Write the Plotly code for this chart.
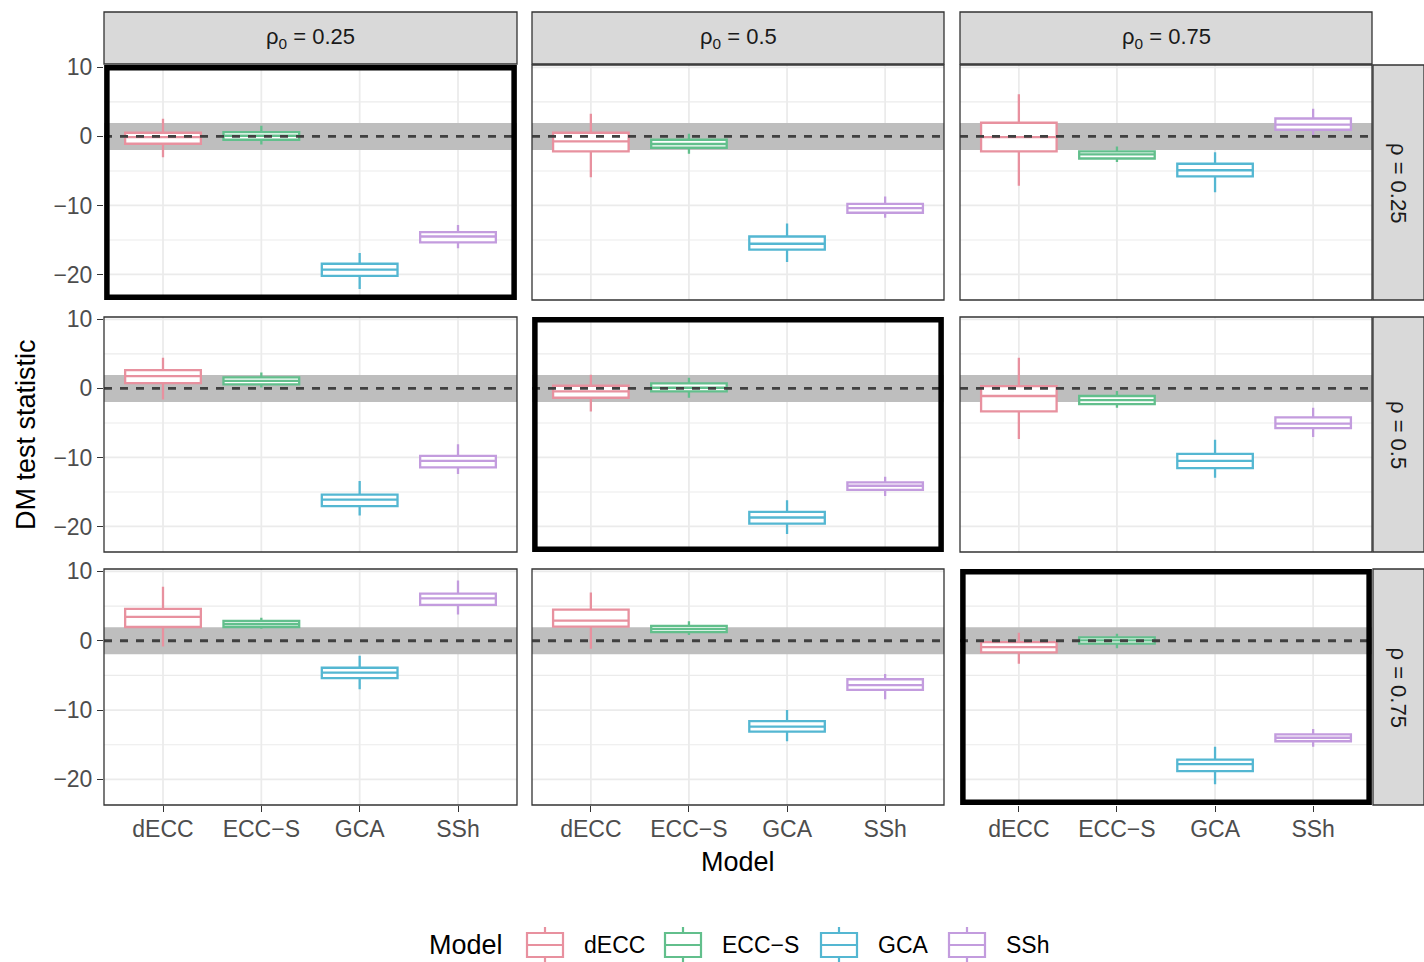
import plotly.graph_objects as go

# ---------------- data ----------------
models = ["dECC", "ECC\u2212S", "GCA", "SSh"]
rho0_labels = ["0.25", "0.5", "0.75"]      # columns
rho_labels = ["0.25", "0.5", "0.75"]       # rows
y_tickvals = [-20, -10, 0, 10]
y_ticktext = ["\u221220", "\u221210", "0", "10"]
y_minor = [-15, -5, 5]

# panel order: row-major (rho=0.25: rho0=0.25,0.5,0.75; rho=0.5: ...; rho=0.75: ...)
dECC_lo  = [-3.0, -5.9, -7.15, -1.6, -3.33, -7.34, -0.82, -1.16, -3.33]
dECC_q1  = [-1.06, -2.17, -2.17, 0.77, -1.35, -3.33, 1.98, 2.03, -1.69]
dECC_med = [-0.1, -0.72, -0.1, 1.79, -0.43, -1.1, 3.43, 2.9, -0.92]
dECC_q3  = [0.53, 0.53, 1.98, 2.66, 0.39, 0.34, 4.59, 4.5, -0.19]
dECC_hi  = [2.57, 3.3, 6.1, 4.44, 1.98, 4.44, 7.8, 6.96, 1.16]

eccs_lo  = [-1.16, -2.5, -3.7, 0.15, -1.35, -2.8, 1.74, 0.82, -1.1]
eccs_q1  = [-0.48, -1.64, -3.2, 0.58, -0.43, -2.27, 1.98, 1.26, -0.43]
eccs_med = [0.1, -1.1, -2.6, 1.1, 0.1, -1.7, 2.4, 1.7, 0.05]
eccs_q3  = [0.62, -0.48, -2.17, 1.59, 0.72, -1.1, 2.85, 2.13, 0.48]
eccs_hi  = [1.55, 0.39, -1.45, 2.3, 1.55, -0.39, 3.33, 2.8, 1.0]

gca_lo  = [-22.1, -18.2, -8.1, -18.4, -21.1, -12.95, -7.0, -14.5, -20.7]
gca_q1  = [-20.2, -16.4, -5.8, -17.05, -19.6, -11.55, -5.4, -13.1, -18.8]
gca_med = [-19.3, -15.55, -4.9, -16.1, -18.7, -10.5, -4.6, -12.4, -17.8]
gca_q3  = [-18.45, -14.5, -3.96, -15.4, -17.9, -9.47, -3.9, -11.6, -17.15]
gca_hi  = [-16.9, -12.6, -2.3, -13.4, -16.2, -7.44, -2.17, -10.0, -15.3]

ssh_lo  = [-16.2, -11.8, 0.0, -12.4, -15.6, -7.05, 3.8, -8.45, -15.3]
ssh_q1  = [-15.36, -11.06, 0.97, -11.45, -14.7, -5.75, 5.17, -7.1, -14.5]
ssh_med = [-14.5, -10.4, 1.7, -10.5, -14.1, -5.1, 6.1, -6.4, -14.0]
ssh_q3  = [-13.87, -9.76, 2.6, -9.76, -13.6, -4.2, 6.8, -5.56, -13.5]
ssh_hi  = [-12.85, -8.7, 4.0, -8.1, -12.8, -2.8, 8.7, -4.8, -12.75]

band_half = 1.96

# ---------------- styling ----------------
colors = ["#E8919F", "#62BF8C", "#54B7D2", "#C39CDE"]
FONT = "Liberation Sans, Arial, Helvetica, sans-serif"
GRID = "#EBEBEB"
W, H = 1424, 962
ml, mr, mt, mb = 104, 52, 65, 157
pw = W - ml - mr
ph = H - mt - mb

def px_x(p):
    return (p - ml) / pw
def px_y(p):
    return (H - mb - p) / ph

col_px = [(104, 517), (532, 944), (960, 1372)]
row_px = [(65, 300), (317, 552), (569, 805)]
def xdom(c):
    a, b = col_px[c]
    return [px_x(a), px_x(b)]
def ydom(r):
    a, b = row_px[r]
    return [px_y(b), px_y(a)]

series = [
    (dECC_lo, dECC_q1, dECC_med, dECC_q3, dECC_hi),
    (eccs_lo, eccs_q1, eccs_med, eccs_q3, eccs_hi),
    (gca_lo, gca_q1, gca_med, gca_q3, gca_hi),
    (ssh_lo, ssh_q1, ssh_med, ssh_q3, ssh_hi),
]

fig = go.Figure()
shapes = []
annotations = []
layout_axes = {}

for r in range(3):
    for c in range(3):
        k = r * 3 + c
        sfx = "" if k == 0 else str(k + 1)
        xa, ya = "x" + sfx, "y" + sfx
        xd, yd = xa + " domain", ya + " domain"
        for m, name in enumerate(models):
            lo, q1, med, q3, hi = series[m]
            fig.add_trace(go.Box(
                x=[name], q1=[q1[k]], median=[med[k]], q3=[q3[k]],
                lowerfence=[lo[k]], upperfence=[hi[k]],
                name=name, legendgroup=name, showlegend=False,
                fillcolor="white", line=dict(color=colors[m], width=2.3),
                whiskerwidth=0, width=0.77, boxpoints=False,
                xaxis=xa, yaxis=ya, hoverinfo="skip",
            ))
        layout_axes["xaxis" + sfx] = dict(
            domain=xdom(c), anchor=ya, type="category",
            categoryorder="array", categoryarray=models,
            range=[-0.6, 3.6], showgrid=False,
            zeroline=False, showline=False,
            ticks="outside" if r == 2 else "", ticklen=6, tickcolor="#333333", tickwidth=1.3,
            showticklabels=(r == 2), ticklabelstandoff=-3,
            tickfont=dict(family=FONT, size=23, color="#4D4D4D"),
        )
        layout_axes["yaxis" + sfx] = dict(
            domain=ydom(r), anchor=xa, range=[-23.7, 10.35],
            tickvals=y_tickvals, ticktext=y_ticktext,
            showgrid=False, zeroline=False, showline=False,
            ticks="outside" if c == 0 else "", ticklen=6, tickcolor="#333333", tickwidth=1.3,
            showticklabels=(c == 0),
            tickfont=dict(family=FONT, size=23, color="#4D4D4D"),
        )
        # grid lines (drawn as shapes so the grey band can cover them)
        for v in y_minor:
            shapes.append(dict(type="line", xref=xd, yref=ya, x0=0, x1=1, y0=v, y1=v,
                               line=dict(color=GRID, width=1.1), layer="below"))
        for v in y_tickvals:
            shapes.append(dict(type="line", xref=xd, yref=ya, x0=0, x1=1, y0=v, y1=v,
                               line=dict(color=GRID, width=1.8), layer="below"))
        for i in range(len(models)):
            shapes.append(dict(type="line", xref=xa, yref=yd, x0=i, x1=i, y0=0, y1=1,
                               line=dict(color=GRID, width=1.8), layer="below"))
        # grey band
        shapes.append(dict(type="rect", xref=xd, yref=ya, x0=0, x1=1, y0=-band_half, y1=band_half,
                           fillcolor="#BEBEBE", line=dict(width=0), layer="below"))
        # dashed zero line
        shapes.append(dict(type="line", xref=xd, yref=ya, x0=0, x1=1, y0=0, y1=0,
                           line=dict(color="#404040", width=2.8, dash="8px,8px"), layer="above"))
        # panel border
        if r == c:
            shapes.append(dict(type="rect", xref=xd, yref=yd, x0=0.007, x1=0.993, y0=0.012, y1=0.988,
                               line=dict(color="black", width=5.5), layer="above"))
        else:
            shapes.append(dict(type="rect", xref=xd, yref=yd, x0=0, x1=1, y0=0, y1=1,
                               line=dict(color="#333333", width=1.3), layer="above"))

# top strips
for c in range(3):
    d = xdom(c)
    y0, y1 = px_y(64), px_y(12)
    shapes.append(dict(type="rect", xref="paper", yref="paper", x0=d[0], x1=d[1], y0=y0, y1=y1,
                       fillcolor="#D9D9D9", line=dict(color="#333333", width=1.3)))
    annotations.append(dict(xref="paper", yref="paper", x=(d[0] + d[1]) / 2, y=(y0 + y1) / 2,
                            text="\u03c1<sub>0</sub> = " + rho0_labels[c], showarrow=False,
                            font=dict(family=FONT, size=22, color="#1A1A1A"),
                            xanchor="center", yanchor="middle"))
# right strips
for r in range(3):
    d = ydom(r)
    x0, x1 = px_x(1373), px_x(1424)
    shapes.append(dict(type="rect", xref="paper", yref="paper", x0=x0, x1=x1, y0=d[0], y1=d[1],
                       fillcolor="#D9D9D9", line=dict(color="#333333", width=1.3)))
    annotations.append(dict(xref="paper", yref="paper", x=(x0 + x1) / 2, y=(d[0] + d[1]) / 2,
                            text="\u03c1 = " + rho_labels[r], showarrow=False, textangle=90,
                            font=dict(family=FONT, size=22, color="#1A1A1A"),
                            xanchor="center", yanchor="middle"))

# axis titles
annotations.append(dict(xref="paper", yref="paper", x=0.5, y=px_y(862), text="Model",
                        showarrow=False, font=dict(family=FONT, size=27, color="black"),
                        xanchor="center", yanchor="middle"))
annotations.append(dict(xref="paper", yref="paper", x=px_x(26), y=px_y(435),
                        text="DM test statistic", showarrow=False, textangle=-90,
                        font=dict(family=FONT, size=27, color="black"),
                        xanchor="center", yanchor="middle"))

# legend (drawn as keys + labels, ggplot style)
legend_title_x = 427
key_left = [527, 665, 821, 949]
key_w = 36
leg_y = 945
annotations.append(dict(xref="paper", yref="paper", x=px_x(legend_title_x), y=px_y(leg_y),
                        text="Model", showarrow=False, xanchor="left", yanchor="middle",
                        font=dict(family=FONT, size=27, color="black")))
for m, name in enumerate(models):
    xl = key_left[m]
    xc = xl + key_w / 2
    col = colors[m]
    shapes.append(dict(type="rect", xref="paper", yref="paper",
                       x0=px_x(xl), x1=px_x(xl + key_w), y0=px_y(957), y1=px_y(933),
                       fillcolor="white", line=dict(color=col, width=2.2)))
    shapes.append(dict(type="line", xref="paper", yref="paper",
                       x0=px_x(xl), x1=px_x(xl + key_w), y0=px_y(945), y1=px_y(945),
                       line=dict(color=col, width=2.2)))
    shapes.append(dict(type="line", xref="paper", yref="paper",
                       x0=px_x(xc), x1=px_x(xc), y0=px_y(933), y1=px_y(927),
                       line=dict(color=col, width=2.2)))
    shapes.append(dict(type="line", xref="paper", yref="paper",
                       x0=px_x(xc), x1=px_x(xc), y0=px_y(957), y1=px_y(962),
                       line=dict(color=col, width=2.2)))
    annotations.append(dict(xref="paper", yref="paper", x=px_x(xl + key_w + 19), y=px_y(leg_y),
                            text=name, showarrow=False, xanchor="left", yanchor="middle",
                            font=dict(family=FONT, size=23, color="black")))

fig.update_layout(
    width=W, height=H, autosize=False,
    margin=dict(l=ml, r=mr, t=mt, b=mb),
    paper_bgcolor="white", plot_bgcolor="white",
    boxmode="overlay", showlegend=False,
    shapes=shapes, annotations=annotations,
    font=dict(family=FONT),
    **layout_axes,
)

fig.write_html("out.html", config={"displayModeBar": False},
               post_script="document.body.style.margin='0';")
